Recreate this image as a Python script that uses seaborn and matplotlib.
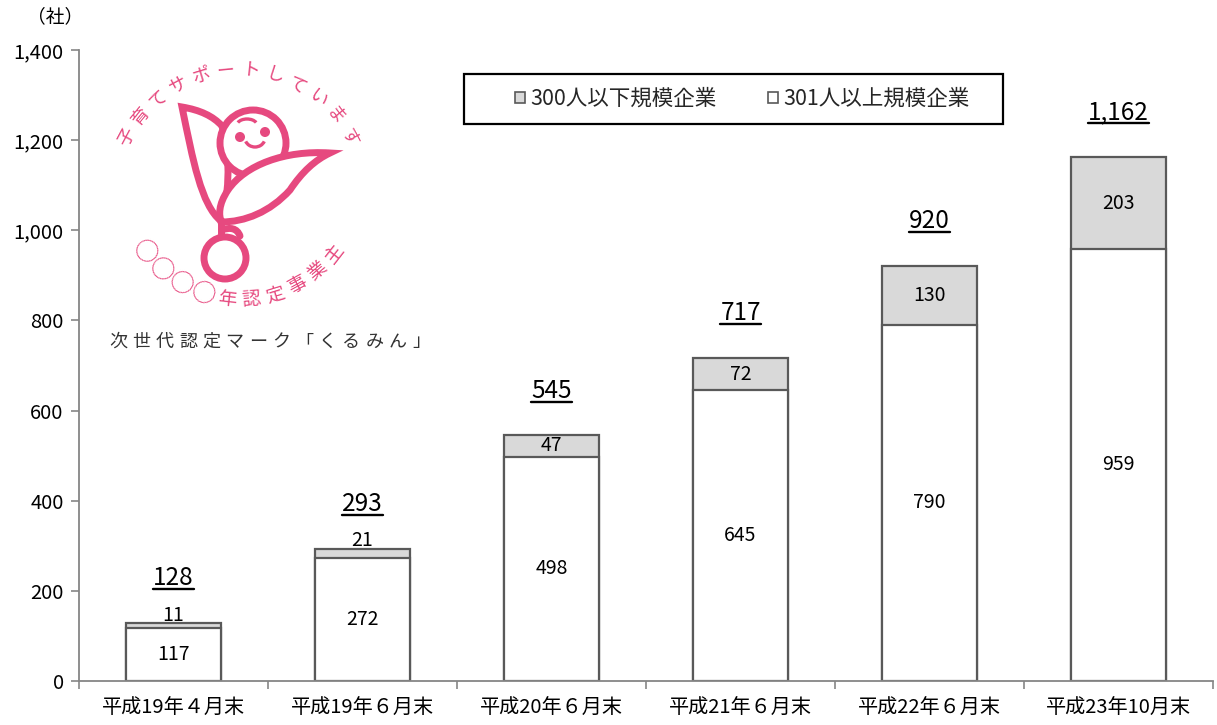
import numpy as np
import pandas as pd
import matplotlib
matplotlib.use("Agg")
import matplotlib.pyplot as plt
from matplotlib.patches import Circle, PathPatch, Arc, Rectangle
from matplotlib.path import Path
from matplotlib.lines import Line2D
import seaborn as sns

# ---- data ----
periods = ['平成19年４月末', '平成19年６月末', '平成20年６月末',
           '平成21年６月末', '平成22年６月末', '平成23年10月末']
large_firms = [117, 272, 498, 645, 790, 959]     # 301人以上規模企業
small_firms = [11, 21, 47, 72, 130, 203]         # 300人以下規模企業
totals = [128, 293, 545, 717, 920, 1162]
yticks = [0, 200, 400, 600, 800, 1000, 1200, 1400]
legend_labels = ['300人以下規模企業', '301人以上規模企業']

sns.set_theme(style="white")
plt.rcParams['font.family'] = ['Noto Sans CJK JP', 'DejaVu Sans']

W, H = 1217, 725
fig = plt.figure(figsize=(W / 100, H / 100), dpi=100)
ax = fig.add_axes([79 / W, 1 - 681 / H, (1213 - 79) / W, (681 - 50) / H])

df = pd.DataFrame({'period': periods, 'large': large_firms,
                   'small': small_firms, 'total': totals})

edge = '#595959'
grey = '#d9d9d9'
# full stack height first (grey), then the large-firm part over it (white)
sns.barplot(data=df, x='period', y='total', color=grey, saturation=1,
            width=0.5, edgecolor=edge, linewidth=1.6, ax=ax)
sns.barplot(data=df, x='period', y='large', color='white', saturation=1,
            width=0.5, edgecolor=edge, linewidth=1.6, ax=ax)

ax.set_xlim(-0.5, len(periods) - 0.5)
ax.set_ylim(0, 1400)
ax.set_yticks(yticks)
ax.set_yticklabels([f'{v:,}' for v in yticks])
ax.set_xlabel('')
ax.set_ylabel('')
ax.set_xticks(range(len(periods)))
ax.set_xticklabels(periods)
ax.set_xticks(np.arange(-0.5, len(periods)), minor=True)
ax.tick_params(axis='x', which='major', length=0, pad=12, labelsize=14.5,
               labelcolor='black')
ax.tick_params(axis='x', which='minor', length=6, width=1.2, color='#868686',
               direction='out', bottom=True)
ax.tick_params(axis='y', length=6, width=1.2, color='#868686', direction='out',
               left=True, pad=5, labelsize=14.5, labelcolor='black')
for s in ['top', 'right']:
    ax.spines[s].set_visible(False)
for s in ['left', 'bottom']:
    ax.spines[s].set_color('#868686')
    ax.spines[s].set_linewidth(1.3)
ax.grid(False)

# segment labels
for i, (lg, sm, tot) in enumerate(zip(large_firms, small_firms, totals)):
    ax.text(i, lg / 2, str(lg), ha='center', va='center', fontsize=14,
            color='black')
    ys = tot + 18 if sm < 30 else lg + sm / 2
    ax.text(i, ys, str(sm), ha='center', va='center', fontsize=14,
            color='black')

total_texts = [ax.text(i, t + 84, f'{t:,}', ha='center', va='baseline',
                       fontsize=17.5, color='black')
               for i, t in enumerate(totals)]

# legend with a plain black box
handles = [Rectangle((0, 0), 1, 1, facecolor=grey, edgecolor=edge, lw=1.2),
           Rectangle((0, 0), 1, 1, facecolor='white', edgecolor=edge, lw=1.2)]
fig.add_artist(Rectangle((464 / W, 1 - 124 / H), (1003 - 464) / W, 50 / H,
                         transform=fig.transFigure, facecolor='white',
                         edgecolor='black', lw=1.6, zorder=4))
leg = fig.legend(handles, legend_labels,
                 loc='center', bbox_to_anchor=(742 / W, 1 - 99 / H), ncol=2,
                 fontsize=15.5, frameon=False,
                 handlelength=0.45, handleheight=0.45, handletextpad=0.25,
                 columnspacing=2.4, borderpad=0.2)
leg.set_zorder(5)

fig.text(55 / W, 1 - 17 / H, '（社）', ha='center', va='center', fontsize=13.5,
         color='black')

# ---- くるみん mark ----
lax = fig.add_axes([0, 0, 1, 1], zorder=3)
lax.set_xlim(0, W)
lax.set_ylim(H, 0)
lax.axis('off')
lax.patch.set_alpha(0)
pink = '#e6497f'
lw = 5.0
M, L, C4, CL = Path.MOVETO, Path.LINETO, Path.CURVE4, Path.CLOSEPOLY


def shape(verts, codes, fill='none', z=1):
    lax.add_patch(PathPatch(Path(verts, codes), facecolor=fill, edgecolor=pink,
                            lw=lw, capstyle='round', joinstyle='miter', zorder=z))


# left petal (its right side tucks behind the head)
shape([(182, 107), (200, 110), (213, 116), (222, 126),
       (232, 160), (228, 200), (221, 221),
       (201, 205), (193, 160), (182, 107), (182, 107)],
      [M, C4, C4, C4, C4, C4, C4, C4, C4, C4, CL], fill='white', z=1)
# head with face
lax.add_patch(Circle((253, 143), 33, facecolor='white', edgecolor=pink, lw=lw,
                     zorder=2))
lax.add_patch(Circle((240, 137), 4.3, color=pink, zorder=4))
lax.add_patch(Circle((265, 132), 4.3, color=pink, zorder=4))
lax.add_patch(Arc((255, 138), 20, 18, theta1=20, theta2=160, color=pink,
                  lw=2.4, zorder=4))
lax.add_patch(Arc((247, 125), 20, 12, theta1=195, theta2=345, color=pink,
                  lw=2.4, zorder=4))
# right leaf, covering the lower part of the head
shape([(330, 153), (285, 150), (245, 165), (228, 190),
       (218, 205), (219, 215), (221, 222),
       (245, 222), (270, 212), (290, 190),
       (302, 172), (315, 160), (330, 153), (330, 153)],
      [M, C4, C4, C4, C4, C4, C4, C4, C4, C4, C4, C4, C4, CL],
      fill='white', z=3)
# stem, hook and root
shape([(221, 220), (221, 234)], [M, L], z=3)
shape([(222, 230), (230, 227), (237, 228), (240, 236)], [M, C4, C4, C4], z=3)
lax.add_patch(Circle((225, 258), 21, facecolor='white', edgecolor=pink, lw=lw,
                     zorder=3))


def arc_text(text, cx, cy, r, a0, a1, upper, size):
    angs = np.linspace(a0, a1, len(text))
    for ch, a in zip(text, angs):
        t = np.deg2rad(a)
        x = cx + r * np.cos(t)
        y = cy - r * np.sin(t)
        rot = a - 90 if upper else a + 90
        fs = size * 1.3 if ch == '○' else size
        lax.text(x, y, ch, rotation=rot, ha='center', va='center',
                 rotation_mode='anchor', fontsize=fs, color=pink)


arc_text('子育てサポートしています', 238, 196, 126, 152, 28, True, 13)
arc_text('○○○○年認定事業主', 240, 180, 120, 217, 322, False, 13.5)

caption = '次世代認定マーク「くるみん」'
for k, ch in enumerate(caption):
    lax.text(118 + k * 23.3, 342, ch, ha='center', va='center', fontsize=13,
             color='#333333')

# underline the totals
fig.canvas.draw()
rend = fig.canvas.get_renderer()
for t, tot in zip(total_texts, totals):
    bb = t.get_window_extent(rend)
    base = ax.transData.transform((0, tot + 84))[1]
    y = base - 4
    fig.add_artist(Line2D([bb.x0 / W, bb.x1 / W], [y / H, y / H],
                          transform=fig.transFigure, color='black', lw=1.7))

fig.savefig('out.png', dpi=100)
